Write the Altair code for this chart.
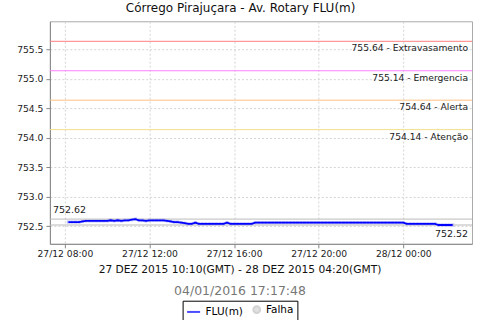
import altair as alt
import pandas as pd

# ---- data ----
start_time = "2015-12-27 08:10"
n_points = 110  # 10-minute readings from 08:10 to 02:20 (local)
times = [t.strftime("%Y-%m-%dT%H:%M:%S") for t in pd.date_range(start_time, periods=n_points, freq="10min")]
levels = [
    752.57, 752.57, 752.57, 752.57, 752.58,
    752.59, 752.59, 752.59, 752.59, 752.59, 752.59, 752.59,
    752.60, 752.59, 752.60, 752.59, 752.60, 752.60, 752.61, 752.62,
    752.60, 752.60, 752.59, 752.60, 752.60, 752.60, 752.60, 752.60,
    752.59, 752.58, 752.57, 752.57, 752.56, 752.55, 752.54, 752.54, 752.56, 752.54,
    752.54, 752.54, 752.54, 752.54, 752.54, 752.54, 752.54,
    752.56,
    752.54, 752.54, 752.54, 752.54, 752.54, 752.54, 752.54,
    752.56, 752.56, 752.56, 752.56, 752.56, 752.56, 752.56, 752.56, 752.56, 752.56,
    752.56, 752.56, 752.56, 752.56, 752.56, 752.56, 752.56, 752.56, 752.56, 752.56,
    752.56, 752.56, 752.56, 752.56, 752.56, 752.56, 752.56, 752.56, 752.56, 752.56,
    752.56, 752.56, 752.56, 752.56, 752.56, 752.56, 752.56, 752.56, 752.56, 752.56,
    752.56, 752.56, 752.56,
    752.54, 752.54, 752.54, 752.54, 752.54, 752.54, 752.54, 752.54, 752.54,
    752.52, 752.52, 752.52, 752.52, 752.52,
]

thr_values = [755.64, 755.14, 754.64, 754.14]
thr_labels = ["755.64 - Extravasamento", "755.14 - Emergencia", "754.64 - Alerta", "754.14 - Atenção"]
thr_colors = ["#ff8080", "#ff80ff", "#ffc080", "#f2e08a"]

max_value, max_label = 752.62, "752.62"
min_value, min_label = 752.52, "752.52"

y_ticks = [752.5, 753.0, 753.5, 754.0, 754.5, 755.0, 755.5]
y_domain = [752.2, 755.98]
x_start = "2015-12-27T07:17:30"
x_end = "2015-12-28T03:15:00"
x_tick_times = ["2015-12-27T08:00:00", "2015-12-27T12:00:00", "2015-12-27T16:00:00",
                "2015-12-27T20:00:00", "2015-12-28T00:00:00"]

series_names = ["FLU(m)", "Falha"]
series_colors = ["blue", "#c0c0c0"]
series_shapes = ["stroke", "circle"]
series_sizes = [170, 45]

title_text = "Córrego Pirajuçara - Av. Rotary FLU(m)"
range_text = "27 DEZ 2015 10:10(GMT) - 28 DEZ 2015 04:20(GMT)"
stamp_text = "04/01/2016 17:17:48"

FONT = "DejaVu Sans"

# ---- tables ----
df = pd.DataFrame({"t": times, "v": levels})
thr = pd.DataFrame({"v": thr_values, "label": thr_labels, "color": thr_colors, "t": [x_end] * 4})
mm = pd.DataFrame({"v": [max_value, min_value], "label": [max_label, min_label],
                   "t": [x_start, x_end]})
leg = pd.DataFrame({"s": series_names, "t": [x_start, x_start], "v": [752.5, 752.5]})


def to_dt(s):
    ts = pd.Timestamp(s)
    return alt.DateTime(year=ts.year, month=ts.month, date=ts.day,
                        hours=ts.hour, minutes=ts.minute, seconds=ts.second)


x_scale = alt.Scale(domain=[to_dt(x_start), to_dt(x_end)])
y_scale = alt.Scale(domain=y_domain, nice=False, zero=False)

x_enc = alt.X("t:T", scale=x_scale,
              axis=alt.Axis(values=[to_dt(s) for s in x_tick_times], format="%d/%m %H:%M",
                            title=range_text, titleFontSize=10.7, titleFontWeight="normal",
                            titleColor="#111", titlePadding=6, labelPadding=2,
                            titleX=190, titleAlign="center", labelOverlap=False))
y_enc = alt.Y("v:Q", scale=y_scale,
              axis=alt.Axis(values=y_ticks, format=".1f", title=None, labelPadding=3,
                            labelOverlap=False))

thr_rules = alt.Chart(thr).mark_rule(strokeWidth=1).encode(
    y=y_enc, color=alt.Color("color:N", scale=None))
thr_text = alt.Chart(thr).mark_text(align="right", baseline="top", dx=-4, dy=3,
                                    fontSize=9.2, font=FONT, color="#222").encode(
    x=x_enc, y=y_enc, text="label:N")

mm_rules = alt.Chart(mm).mark_rule(color="#bbbbbb", strokeWidth=1).encode(y=y_enc)
mm_max_text = alt.Chart(mm).transform_filter(alt.datum.label == max_label).mark_text(
    align="left", baseline="bottom", dx=3, dy=-4, fontSize=9.5, font=FONT, color="#222").encode(
    x=x_enc, y=y_enc, text="label:N")
mm_min_text = alt.Chart(mm).transform_filter(alt.datum.label == min_label).mark_text(
    align="right", baseline="top", dx=-4, dy=4, fontSize=9.5, font=FONT, color="#222").encode(
    x=x_enc, y=y_enc, text="label:N")

pts = alt.Chart(df).mark_square(size=10, color="#a8a8ff", opacity=0.8).encode(x=x_enc, y=y_enc)
line = alt.Chart(df).mark_line(color="blue", strokeWidth=1.8).encode(x=x_enc, y=y_enc)

legend = alt.Legend(title=None, orient="none", legendX=133, legendY=280, direction="horizontal",
                    strokeColor="black", padding=3, labelFont=FONT, labelFontSize=10.5,
                    labelColor="#000", symbolStrokeWidth=2, columnPadding=5, labelOffset=4)
sc = alt.Scale(domain=series_names, range=series_colors)
leg_layer = alt.Chart(leg).transform_filter("false").mark_point(filled=True).encode(
    x=x_enc, y=y_enc,
    fill=alt.Fill("s:N", scale=sc, legend=legend),
    stroke=alt.Stroke("s:N", scale=sc, legend=legend),
    shape=alt.Shape("s:N", scale=alt.Scale(domain=series_names, range=series_shapes), legend=legend),
    size=alt.Size("s:N", scale=alt.Scale(domain=series_names, range=series_sizes), legend=legend),
)

inner = alt.layer(pts, thr_rules, thr_text, mm_rules, mm_max_text, mm_min_text, line, leg_layer).properties(
    width=423, height=223,
    title=alt.Title(stamp_text, orient="bottom", color="#777", fontSize=12.5, fontWeight="normal",
                    font=FONT, offset=10, anchor="middle", dx=-21),
)

chart = alt.vconcat(inner, title=alt.Title(title_text, fontSize=12, fontWeight="normal",
                                           font=FONT, color="#111", offset=6, anchor="middle",
                                           dx=-4)).configure(
    padding={"left": 16, "top": 1, "right": 7, "bottom": 1},
    font=FONT,
).configure_axis(
    gridColor="#d4d4d4", gridDash=[2, 2], domainColor="#888888", tickColor="#888888",
    tickSize=4, labelFont=FONT, labelFontSize=9.2, labelColor="#222", titleFont=FONT,
).configure_view(stroke="#aaaaaa")

chart.save("out.html", embed_options={"renderer": "svg", "actions": False})
